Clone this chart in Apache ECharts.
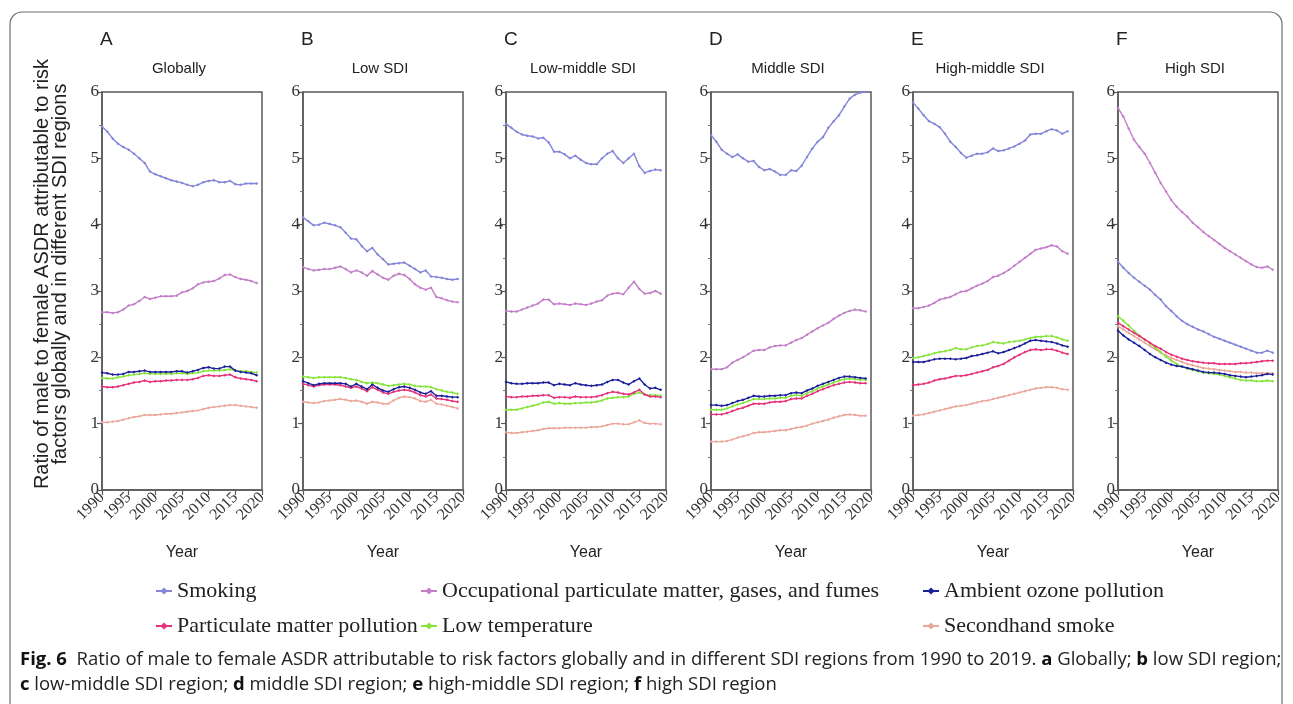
<!DOCTYPE html>
<html>
<head>
<meta charset="utf-8">
<script src="https://cdn.jsdelivr.net/npm/echarts@6/dist/echarts.min.js"></script>
<style>
  html, body { margin: 0; padding: 0; background: #fff; }
  #chart { width: 1293px; height: 704px; }
</style>
</head>
<body>
<div id="chart"></div>
<script>
// years 1990-2019
var years = [1990, 1991, 1992, 1993, 1994, 1995, 1996, 1997, 1998, 1999,
  2000, 2001, 2002, 2003, 2004, 2005, 2006, 2007, 2008, 2009,
  2010, 2011, 2012, 2013, 2014, 2015, 2016, 2017, 2018, 2019];

var panelLetters = ["A", "B", "C", "D", "E", "F"];
var panelTitles = ["Globally", "Low SDI", "Low-middle SDI", "Middle SDI", "High-middle SDI", "High SDI"];
var factorNames = [
  "Smoking",
  "Occupational particulate matter, gases, and fumes",
  "Ambient ozone pollution",
  "Particulate matter pollution",
  "Low temperature",
  "Secondhand smoke"
];
var xTicks = [1990, 1995, 2000, 2005, 2010, 2015, 2020];
var yTicks = [0, 1, 2, 3, 4, 5, 6];

// A - Globally
var smokingA = [5.48, 5.40, 5.30, 5.22, 5.17, 5.13, 5.07, 5.00, 4.93, 4.80, 4.76, 4.73, 4.70, 4.67, 4.65, 4.63, 4.60, 4.58, 4.60, 4.64, 4.66, 4.67, 4.64, 4.64, 4.66, 4.61, 4.60, 4.62, 4.62, 4.62];
var occupA = [2.68, 2.68, 2.67, 2.68, 2.72, 2.78, 2.80, 2.85, 2.91, 2.88, 2.90, 2.92, 2.92, 2.92, 2.93, 2.98, 3.00, 3.04, 3.10, 3.13, 3.14, 3.15, 3.19, 3.24, 3.25, 3.21, 3.18, 3.17, 3.15, 3.12];
var ozoneA = [1.77, 1.76, 1.74, 1.74, 1.75, 1.78, 1.78, 1.79, 1.80, 1.78, 1.78, 1.78, 1.78, 1.78, 1.79, 1.79, 1.77, 1.79, 1.81, 1.84, 1.85, 1.83, 1.83, 1.86, 1.86, 1.80, 1.78, 1.77, 1.76, 1.73];
var pmA = [1.56, 1.55, 1.55, 1.56, 1.58, 1.60, 1.62, 1.63, 1.65, 1.63, 1.64, 1.64, 1.65, 1.65, 1.66, 1.66, 1.66, 1.67, 1.69, 1.72, 1.73, 1.72, 1.72, 1.73, 1.74, 1.70, 1.68, 1.67, 1.66, 1.64];
var lowTempA = [1.69, 1.68, 1.68, 1.70, 1.71, 1.73, 1.74, 1.75, 1.76, 1.75, 1.75, 1.75, 1.75, 1.75, 1.76, 1.76, 1.75, 1.76, 1.77, 1.79, 1.80, 1.80, 1.80, 1.81, 1.82, 1.80, 1.79, 1.79, 1.78, 1.77];
var shsA = [1.02, 1.02, 1.03, 1.04, 1.06, 1.08, 1.10, 1.11, 1.13, 1.13, 1.13, 1.14, 1.15, 1.15, 1.16, 1.17, 1.18, 1.19, 1.20, 1.22, 1.24, 1.25, 1.26, 1.27, 1.28, 1.28, 1.27, 1.26, 1.25, 1.24];

// B - Low SDI
var smokingB = [4.11, 4.05, 3.99, 4.00, 4.03, 4.01, 3.99, 3.96, 3.88, 3.79, 3.78, 3.68, 3.60, 3.65, 3.55, 3.48, 3.40, 3.41, 3.42, 3.43, 3.38, 3.33, 3.28, 3.31, 3.22, 3.21, 3.20, 3.18, 3.17, 3.18];
var occupB = [3.36, 3.33, 3.31, 3.32, 3.33, 3.33, 3.35, 3.37, 3.33, 3.28, 3.31, 3.28, 3.23, 3.30, 3.25, 3.20, 3.17, 3.23, 3.26, 3.24, 3.18, 3.10, 3.05, 3.02, 3.05, 2.91, 2.89, 2.86, 2.84, 2.83];
var ozoneB = [1.64, 1.61, 1.58, 1.60, 1.61, 1.61, 1.61, 1.61, 1.60, 1.56, 1.60, 1.56, 1.52, 1.59, 1.54, 1.50, 1.48, 1.52, 1.55, 1.56, 1.54, 1.51, 1.47, 1.45, 1.49, 1.42, 1.42, 1.41, 1.40, 1.40];
var pmB = [1.60, 1.58, 1.56, 1.58, 1.59, 1.59, 1.59, 1.58, 1.56, 1.54, 1.56, 1.53, 1.49, 1.55, 1.51, 1.47, 1.45, 1.48, 1.50, 1.51, 1.50, 1.47, 1.43, 1.41, 1.44, 1.38, 1.37, 1.36, 1.34, 1.33];
var lowTempB = [1.71, 1.70, 1.69, 1.70, 1.70, 1.70, 1.70, 1.70, 1.69, 1.67, 1.66, 1.63, 1.61, 1.62, 1.61, 1.59, 1.57, 1.58, 1.59, 1.60, 1.59, 1.57, 1.56, 1.56, 1.55, 1.52, 1.50, 1.48, 1.47, 1.45];
var shsB = [1.33, 1.32, 1.31, 1.32, 1.34, 1.35, 1.36, 1.37, 1.36, 1.34, 1.35, 1.33, 1.30, 1.33, 1.32, 1.30, 1.30, 1.35, 1.39, 1.41, 1.40, 1.38, 1.34, 1.33, 1.36, 1.30, 1.29, 1.27, 1.25, 1.23];

// C - Low-middle SDI
var smokingC = [5.52, 5.46, 5.40, 5.36, 5.34, 5.33, 5.30, 5.31, 5.24, 5.10, 5.10, 5.06, 5.00, 5.04, 4.98, 4.93, 4.91, 4.91, 5.00, 5.07, 5.11, 5.00, 4.93, 5.00, 5.07, 4.88, 4.78, 4.81, 4.83, 4.82];
var occupC = [2.70, 2.69, 2.69, 2.72, 2.75, 2.78, 2.81, 2.87, 2.87, 2.80, 2.81, 2.80, 2.79, 2.81, 2.80, 2.79, 2.81, 2.84, 2.86, 2.93, 2.96, 2.97, 2.95, 3.05, 3.14, 3.03, 2.96, 2.97, 3.00, 2.96];
var ozoneC = [1.63, 1.61, 1.60, 1.60, 1.61, 1.61, 1.61, 1.62, 1.62, 1.58, 1.60, 1.59, 1.58, 1.61, 1.59, 1.58, 1.57, 1.58, 1.59, 1.63, 1.66, 1.66, 1.62, 1.59, 1.64, 1.68, 1.59, 1.53, 1.54, 1.51];
var pmC = [1.41, 1.40, 1.40, 1.41, 1.41, 1.42, 1.42, 1.43, 1.43, 1.39, 1.40, 1.40, 1.39, 1.41, 1.40, 1.40, 1.40, 1.41, 1.43, 1.46, 1.48, 1.47, 1.45, 1.44, 1.47, 1.51, 1.44, 1.41, 1.41, 1.40];
var lowTempC = [1.21, 1.21, 1.21, 1.23, 1.25, 1.27, 1.29, 1.32, 1.33, 1.30, 1.31, 1.30, 1.30, 1.31, 1.31, 1.32, 1.32, 1.33, 1.35, 1.38, 1.39, 1.40, 1.40, 1.41, 1.45, 1.47, 1.44, 1.43, 1.43, 1.42];
var shsC = [0.87, 0.86, 0.86, 0.87, 0.88, 0.89, 0.90, 0.92, 0.93, 0.93, 0.93, 0.94, 0.94, 0.94, 0.94, 0.94, 0.95, 0.95, 0.96, 0.98, 1.00, 1.00, 0.99, 0.99, 1.02, 1.05, 1.01, 1.00, 1.00, 0.99];

// D - Middle SDI
var smokingD = [5.35, 5.25, 5.13, 5.07, 5.02, 5.06, 5.00, 4.95, 4.96, 4.87, 4.82, 4.84, 4.80, 4.75, 4.75, 4.82, 4.81, 4.89, 5.02, 5.15, 5.25, 5.32, 5.46, 5.56, 5.65, 5.78, 5.90, 5.96, 5.99, 6.00];
var occupD = [1.82, 1.82, 1.82, 1.85, 1.92, 1.96, 2.00, 2.05, 2.10, 2.11, 2.11, 2.15, 2.17, 2.18, 2.18, 2.22, 2.26, 2.29, 2.34, 2.39, 2.44, 2.48, 2.52, 2.58, 2.63, 2.67, 2.70, 2.72, 2.71, 2.69];
var ozoneD = [1.28, 1.28, 1.27, 1.28, 1.31, 1.34, 1.36, 1.39, 1.42, 1.41, 1.41, 1.42, 1.42, 1.43, 1.43, 1.46, 1.47, 1.46, 1.50, 1.53, 1.57, 1.60, 1.63, 1.66, 1.69, 1.71, 1.71, 1.70, 1.69, 1.68];
var pmD = [1.14, 1.14, 1.14, 1.16, 1.19, 1.22, 1.24, 1.27, 1.30, 1.30, 1.30, 1.32, 1.33, 1.33, 1.34, 1.37, 1.38, 1.38, 1.42, 1.45, 1.49, 1.52, 1.55, 1.58, 1.60, 1.62, 1.63, 1.62, 1.61, 1.61];
var lowTempD = [1.21, 1.21, 1.21, 1.23, 1.26, 1.29, 1.31, 1.34, 1.37, 1.37, 1.37, 1.38, 1.38, 1.39, 1.39, 1.42, 1.43, 1.42, 1.46, 1.49, 1.53, 1.56, 1.59, 1.62, 1.65, 1.67, 1.68, 1.67, 1.66, 1.66];
var shsD = [0.73, 0.73, 0.73, 0.74, 0.76, 0.79, 0.81, 0.83, 0.86, 0.87, 0.87, 0.88, 0.89, 0.90, 0.90, 0.92, 0.94, 0.95, 0.97, 1.00, 1.02, 1.04, 1.06, 1.09, 1.11, 1.13, 1.14, 1.13, 1.12, 1.12];

// E - High-middle SDI
var smokingE = [5.84, 5.75, 5.65, 5.56, 5.52, 5.47, 5.37, 5.25, 5.17, 5.08, 5.01, 5.04, 5.07, 5.07, 5.09, 5.15, 5.11, 5.12, 5.15, 5.18, 5.22, 5.27, 5.36, 5.37, 5.37, 5.41, 5.44, 5.42, 5.37, 5.41];
var occupE = [2.74, 2.74, 2.76, 2.78, 2.82, 2.87, 2.89, 2.91, 2.95, 2.99, 3.00, 3.04, 3.08, 3.11, 3.15, 3.21, 3.23, 3.27, 3.32, 3.38, 3.44, 3.50, 3.56, 3.62, 3.64, 3.66, 3.69, 3.67, 3.60, 3.56];
var ozoneE = [1.93, 1.93, 1.93, 1.95, 1.97, 1.98, 1.98, 1.98, 1.97, 1.98, 1.99, 2.02, 2.03, 2.05, 2.07, 2.09, 2.06, 2.08, 2.11, 2.14, 2.17, 2.21, 2.25, 2.26, 2.25, 2.24, 2.23, 2.21, 2.18, 2.16];
var pmE = [1.58, 1.59, 1.60, 1.62, 1.65, 1.67, 1.68, 1.70, 1.72, 1.72, 1.73, 1.75, 1.77, 1.79, 1.81, 1.85, 1.87, 1.90, 1.95, 2.00, 2.04, 2.08, 2.11, 2.12, 2.11, 2.12, 2.12, 2.10, 2.07, 2.05];
var lowTempE = [1.99, 2.00, 2.02, 2.04, 2.06, 2.08, 2.09, 2.11, 2.14, 2.12, 2.12, 2.15, 2.17, 2.18, 2.20, 2.23, 2.22, 2.21, 2.23, 2.24, 2.25, 2.27, 2.29, 2.31, 2.31, 2.32, 2.32, 2.30, 2.27, 2.25];
var shsE = [1.12, 1.13, 1.14, 1.16, 1.18, 1.20, 1.22, 1.24, 1.26, 1.27, 1.28, 1.30, 1.32, 1.34, 1.35, 1.37, 1.39, 1.41, 1.43, 1.45, 1.47, 1.49, 1.51, 1.53, 1.54, 1.55, 1.55, 1.54, 1.52, 1.51];

// F - High SDI
var smokingF = [3.44, 3.35, 3.27, 3.20, 3.14, 3.08, 3.02, 2.94, 2.87, 2.77, 2.70, 2.62, 2.55, 2.50, 2.46, 2.42, 2.39, 2.35, 2.31, 2.28, 2.25, 2.22, 2.19, 2.16, 2.13, 2.10, 2.07, 2.07, 2.10, 2.07];
var occupF = [5.76, 5.63, 5.45, 5.28, 5.17, 5.07, 4.93, 4.78, 4.63, 4.50, 4.37, 4.27, 4.19, 4.12, 4.03, 3.96, 3.89, 3.83, 3.77, 3.71, 3.65, 3.60, 3.55, 3.50, 3.45, 3.40, 3.36, 3.35, 3.37, 3.32];
var ozoneF = [2.40, 2.33, 2.27, 2.22, 2.17, 2.11, 2.05, 2.00, 1.96, 1.92, 1.89, 1.87, 1.86, 1.84, 1.82, 1.80, 1.78, 1.77, 1.77, 1.76, 1.75, 1.73, 1.72, 1.71, 1.70, 1.71, 1.72, 1.73, 1.75, 1.74];
var pmF = [2.52, 2.47, 2.42, 2.37, 2.32, 2.27, 2.22, 2.17, 2.13, 2.08, 2.04, 2.01, 1.98, 1.96, 1.94, 1.93, 1.92, 1.91, 1.91, 1.90, 1.90, 1.90, 1.90, 1.91, 1.91, 1.92, 1.93, 1.94, 1.95, 1.95];
var lowTempF = [2.62, 2.55, 2.48, 2.40, 2.33, 2.27, 2.21, 2.15, 2.08, 2.01, 1.95, 1.90, 1.86, 1.83, 1.81, 1.79, 1.77, 1.76, 1.75, 1.74, 1.72, 1.70, 1.68, 1.66, 1.65, 1.65, 1.64, 1.64, 1.65, 1.64];
var shsF = [2.47, 2.42, 2.37, 2.32, 2.27, 2.22, 2.17, 2.12, 2.07, 2.03, 1.99, 1.96, 1.93, 1.90, 1.88, 1.86, 1.84, 1.83, 1.82, 1.81, 1.80, 1.79, 1.78, 1.78, 1.77, 1.77, 1.76, 1.76, 1.76, 1.76];

var panels = [
  [smokingA, occupA, ozoneA, pmA, lowTempA, shsA],
  [smokingB, occupB, ozoneB, pmB, lowTempB, shsB],
  [smokingC, occupC, ozoneC, pmC, lowTempC, shsC],
  [smokingD, occupD, ozoneD, pmD, lowTempD, shsD],
  [smokingE, occupE, ozoneE, pmE, lowTempE, shsE],
  [smokingF, occupF, ozoneF, pmF, lowTempF, shsF]
];

var colors = ["#8285d8", "#c27ec8", "#1c1f9a", "#e6327a", "#84e43a", "#eba799"];
var gridLefts = [102, 303, 506, 711, 913, 1118];
var gridW = 160, gridTop = 92, gridH = 398;
var serif = "'Liberation Serif', 'Times New Roman', serif";
var sans = "'Liberation Sans', Arial, sans-serif";
var capFont = "'Open Sans', sans-serif";

var chart = echarts.init(document.getElementById("chart"), null, { renderer: "canvas" });

var grids = [], xAxes = [], yAxes = [], series = [], titles = [];
gridLefts.forEach(function (left, i) {
  grids.push({
    left: left, top: gridTop, width: gridW, height: gridH,
    show: true, borderColor: "#5a5a5a", borderWidth: 1.5, backgroundColor: "transparent"
  });
  xAxes.push({
    gridIndex: i, type: "value",
    min: xTicks[0], max: xTicks[xTicks.length - 1], interval: 5,
    name: "Year", nameLocation: "middle", nameGap: 55,
    nameTextStyle: { fontFamily: sans, fontSize: 16, color: "#222" },
    axisLine: { onZero: false, lineStyle: { color: "#5a5a5a", width: 1.5 } },
    axisTick: { show: true, length: 5, lineStyle: { color: "#5a5a5a", width: 1.2 } },
    axisLabel: {
      rotate: 45, fontFamily: serif, fontSize: 16, color: "#333", margin: 5,
      formatter: function (v) { return String(v); }
    },
    splitLine: { show: false }
  });
  yAxes.push({
    gridIndex: i, type: "value",
    min: yTicks[0], max: yTicks[yTicks.length - 1], interval: 1,
    axisLine: { show: true, lineStyle: { color: "#5a5a5a", width: 1.5 } },
    axisTick: { show: true, length: 5, lineStyle: { color: "#5a5a5a", width: 1.2 } },
    minorTick: { show: true, splitNumber: 2, length: 3, lineStyle: { color: "#777", width: 1 } },
    axisLabel: { fontFamily: serif, fontSize: 17, color: "#333", margin: 3 },
    splitLine: { show: false }
  });
  titles.push({
    text: panelLetters[i], left: left - 2, top: 30, padding: 0,
    textStyle: { fontFamily: sans, fontSize: 19, fontWeight: "normal", color: "#222" }
  });
  titles.push({
    text: panelTitles[i], left: left + gridW / 2 - 3, top: 61, textAlign: "center", padding: 0,
    textStyle: { fontFamily: sans, fontSize: 15, fontWeight: "normal", color: "#222" }
  });
  panels[i].forEach(function (vals, f) {
    series.push({
      name: factorNames[f], type: "line",
      xAxisIndex: i, yAxisIndex: i,
      data: years.map(function (y, k) { return [y, vals[k]]; }),
      symbol: "diamond", symbolSize: 3, showSymbol: true,
      lineStyle: { color: colors[f], width: 1.4 },
      itemStyle: { color: colors[f] },
      z: 10 - f, clip: true, animation: false
    });
  });
});

var legendSlots = [
  [155, 580], [420, 580], [922, 580],
  [155, 615], [420, 615], [922, 615]
];
var legends = factorNames.map(function (name, f) {
  return {
    data: [name], left: legendSlots[f][0], top: legendSlots[f][1],
    itemWidth: 16, itemHeight: 9, selectedMode: false, padding: 0,
    textStyle: { fontFamily: serif, fontSize: 22, color: "#222" }
  };
});

var option = {
  backgroundColor: "#fff",
  animation: false,
  color: colors,
  title: titles,
  grid: grids,
  xAxis: xAxes,
  yAxis: yAxes,
  legend: legends,
  series: series,
  graphic: [
    {
      type: "rect", shape: { x: 10, y: 12, width: 1272, height: 740, r: 12 },
      style: { fill: "none", stroke: "#6e6e6e", lineWidth: 1.2 }, silent: true
    },
    {
      type: "text", x: 51, y: 274, rotation: Math.PI / 2,
      style: {
        text: "Ratio of male to female ASDR attributable to risk\nfactors globally and in different SDI regions",
        fontFamily: sans, fontSize: 20, lineHeight: 18, fill: "#222",
        align: "center", verticalAlign: "middle"
      }
    },
    {
      type: "text", x: 20, y: 660,
      style: {
        text: "{b|Fig. 6}  Ratio of male to female ASDR attributable to risk factors globally and in different SDI regions from 1990 to 2019. {b|a} Globally; {b|b} low SDI region;",
        fontFamily: capFont, fontSize: 18.5, fill: "#222", verticalAlign: "middle",
        rich: { b: { fontWeight: "bold", fontFamily: capFont, fontSize: 18.5, fill: "#111" } }
      }
    },
    {
      type: "text", x: 20, y: 685,
      style: {
        text: "{b|c} low-middle SDI region; {b|d} middle SDI region; {b|e} high-middle SDI region; {b|f} high SDI region",
        fontFamily: capFont, fontSize: 18.5, fill: "#222", verticalAlign: "middle",
        rich: { b: { fontWeight: "bold", fontFamily: capFont, fontSize: 18.5, fill: "#111" } }
      }
    }
  ]
};

chart.setOption(option);
</script>
</body>
</html>
